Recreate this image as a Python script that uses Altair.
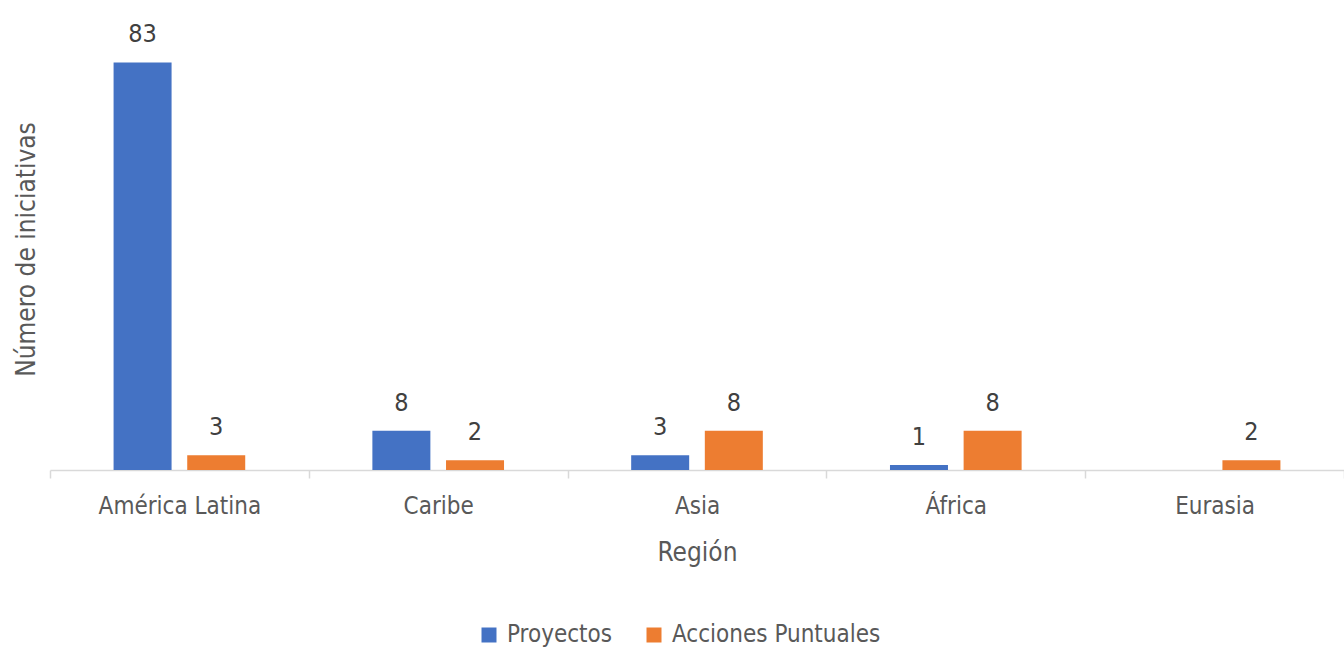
import altair as alt
import pandas as pd

regions = ["América Latina", "Caribe", "Asia", "África", "Eurasia"]
series = ["Proyectos", "Acciones Puntuales"]
proyectos = [83, 8, 3, 1, 0]
acciones = [3, 2, 8, 8, 2]
colors = ["#4472C4", "#ED7D31"]

rows = []
for r, p, a in zip(regions, proyectos, acciones):
    rows.append({"Región": r, "Serie": series[0], "Valor": p})
    rows.append({"Región": r, "Serie": series[1], "Valor": a})
df = pd.DataFrame(rows)

FONT = "DejaVu Sans Condensed, Liberation Sans, sans-serif"

x = alt.X(
    "Región:N",
    sort=regions,
    scale=alt.Scale(paddingInner=0, paddingOuter=0),
    axis=alt.Axis(
        title="Región",
        titleFont=FONT,
        titleFontSize=26,
        titleFontWeight="normal",
        titleColor="#595959",
        titleY=82,
        titleBaseline="middle",
        labelAngle=0,
        labelFont=FONT,
        labelFontSize=24,
        labelColor="#595959",
        labelPadding=16,
        labelBaseline="top",
        labelLimit=0,
        tickBand="extent",
        tickSize=8,
        tickColor="#d9d9d9",
        tickWidth=1.5,
        domainColor="#d9d9d9",
        domainWidth=1.5,
        grid=False,
    ),
)
xoff = alt.XOffset(
    "Serie:N",
    sort=series,
    scale=alt.Scale(paddingInner=0.216, paddingOuter=0.865),
)
y = alt.Y(
    "Valor:Q",
    scale=alt.Scale(domain=[0, 90], nice=False),
    axis=alt.Axis(
        title="Número de iniciativas",
        titleFont=FONT,
        titleFontSize=26,
        titleFontWeight="normal",
        titleColor="#595959",
        titleX=-24,
        titleY=221,
        titleAngle=-90,
        titleAlign="center",
        titleBaseline="middle",
        labels=False,
        ticks=False,
        domain=False,
        domainOpacity=0,
        grid=False,
    ),
)

color = alt.Color(
    "Serie:N",
    sort=series,
    scale=alt.Scale(domain=series, range=colors),
    legend=alt.Legend(
        title=None,
        orient="none",
        direction="horizontal",
        legendX=427,
        legendY=595,
        symbolType="square",
        symbolSize=225,
        symbolStrokeWidth=0,
        labelFont=FONT,
        labelFontSize=24,
        labelColor="#595959",
        labelLimit=0,
        columnPadding=30,
        labelOffset=6,
        padding=0,
    ),
)

base = alt.Chart(df)
bars = base.mark_bar(size=58).encode(x=x, xOffset=xoff, y=y, color=color)
labels = (
    base.transform_filter("datum.Valor > 0")
    .mark_text(font=FONT, fontSize=25, color="#404040", baseline="alphabetic", dy=-20)
    .encode(x=x, xOffset=xoff, y=y, text="Valor:Q")
)

chart = (
    alt.layer(bars, labels)
    .properties(
        width=1294,
        height=442,
        background="white",
        autosize=alt.AutoSizeParams(type="none"),
        padding={"left": 50, "top": 28, "right": 0, "bottom": 180},
    )
    .configure_view(strokeOpacity=0, strokeWidth=0, stroke="transparent")
)

chart.save("out.html", embed_options={"renderer": "svg", "actions": False})
